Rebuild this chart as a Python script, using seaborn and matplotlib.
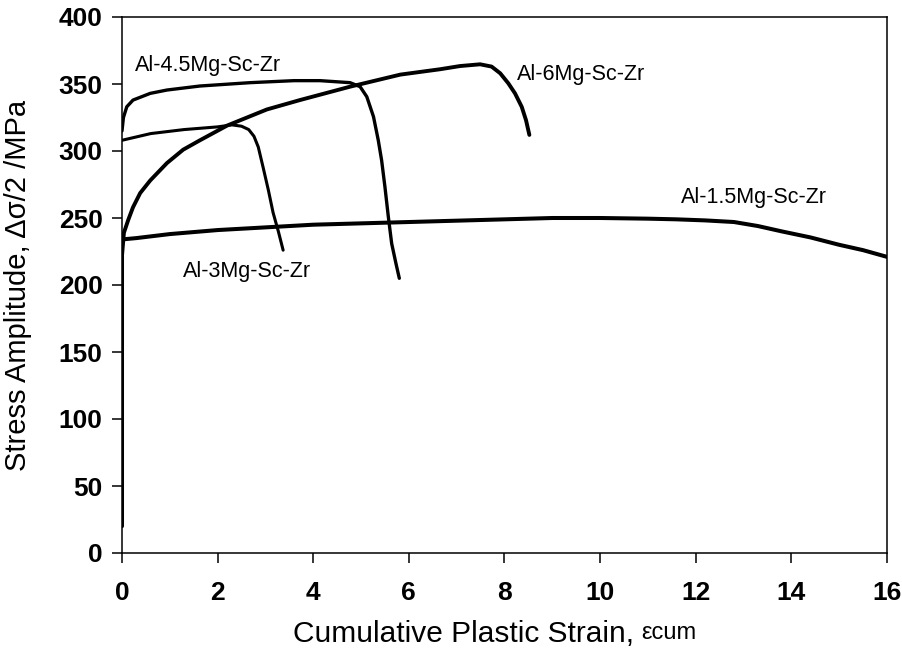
import matplotlib
matplotlib.use("Agg")
import matplotlib.pyplot as plt
import seaborn as sns
import pandas as pd

# ---- data ----
alloys = ["Al-1.5Mg-Sc-Zr", "Al-3Mg-Sc-Zr", "Al-4.5Mg-Sc-Zr", "Al-6Mg-Sc-Zr"]

x15 = [0, 0, 0.3, 1, 2, 3, 4, 5, 6, 7, 8, 9, 10, 11, 11.6, 12.2, 12.8, 13.3, 13.8, 14.4, 15, 15.5, 16]
y15 = [20, 234, 235, 238, 241, 243, 245, 246, 247, 248, 249, 250, 250, 249.5, 249, 248.2, 247, 244, 240, 235.5, 230, 226, 221]

x3 = [0, 0.6, 1.3, 2.0, 2.3, 2.5, 2.65, 2.76, 2.85, 2.95, 3.06, 3.16, 3.27, 3.37]
y3 = [308, 313, 316, 318, 319.5, 318.5, 316, 311, 303, 288, 271, 254, 240, 226]

x45 = [0, 0.03, 0.1, 0.23, 0.59, 0.94, 1.63, 2.68, 3.6, 4.14, 4.77, 4.98, 5.12, 5.26, 5.36, 5.43, 5.5, 5.57, 5.64, 5.73, 5.8]
y45 = [315, 325, 333, 338, 343, 345.5, 348.5, 351, 352.5, 352.5, 351, 348, 340.5, 325.6, 308, 293, 273, 251, 231, 216, 205]

x6 = [0, 0.04, 0.13, 0.23, 0.38, 0.59, 0.94, 1.28, 1.63, 2.2, 3.03, 3.72, 4.77, 5.82, 6.65, 7.07, 7.49, 7.73, 7.91, 8.08, 8.22, 8.36, 8.45, 8.52]
y6 = [222, 239, 248.5, 258, 268.6, 278, 291, 301, 308, 319, 331, 338, 348, 357, 361, 363.4, 364.7, 363, 358, 350.5, 343, 333, 323, 312]

xticks = [0, 2, 4, 6, 8, 10, 12, 14, 16]
yticks = [0, 50, 100, 150, 200, 250, 300, 350, 400]

# label anchor positions (data coords, left / vertical centre)
label_x = [11.7, 1.28, 0.27, 8.26]
label_y = [265, 210, 364, 357]

sns.set_theme(style="white")
plt.rcParams['font.family'] = ['Liberation Sans', 'DejaVu Sans']
for k in ['text.color', 'axes.labelcolor', 'xtick.color', 'ytick.color', 'axes.edgecolor']:
    plt.rcParams[k] = 'black'

frames = []
for name, xs, ys in zip(alloys, [x15, x3, x45, x6], [y15, y3, y45, y6]):
    frames.append(pd.DataFrame({"strain": xs, "stress": ys, "alloy": name}))
df = pd.concat(frames, ignore_index=True)

fig = plt.figure(figsize=(9.03, 6.56), dpi=100)
ax = fig.add_axes([122/903, 1 - 553/656, (887-122)/903, (553-17)/656])

widths = {"Al-1.5Mg-Sc-Zr": 2.9, "Al-3Mg-Sc-Zr": 2.2, "Al-4.5Mg-Sc-Zr": 2.4, "Al-6Mg-Sc-Zr": 2.8}
for name in alloys:
    sub = df[df["alloy"] == name]
    sns.lineplot(data=sub, x="strain", y="stress", sort=False, estimator=None,
                 color="black", lw=widths[name], ax=ax, legend=False)
for ln in ax.lines:
    ln.set_solid_joinstyle('round')
    ln.set_solid_capstyle('round')

ax.set_xlim(0, 16)
ax.set_ylim(0, 400)
ax.set_xticks(xticks)
ax.set_yticks(yticks)
ax.set_xticklabels([str(t) for t in xticks], fontsize=19, fontweight='bold')
ax.set_yticklabels([str(t) for t in yticks], fontsize=19, fontweight='bold')
ax.tick_params(axis='both', direction='out', length=7, width=1.1, color='black',
               labelcolor='black', bottom=True, left=True)
ax.tick_params(axis='x', pad=13)
ax.tick_params(axis='y', pad=7)

for s in ax.spines.values():
    s.set_visible(True)
    s.set_color('black')
    s.set_linewidth(1.1)

for name, lx, ly in zip(alloys, label_x, label_y):
    ax.text(lx, ly, name, fontsize=15.5, color='black', ha='left', va='center')

ax.set_ylabel("Stress Amplitude, \u0394\u03c3/2 /MPa", fontsize=21, color='black')
ax.yaxis.set_label_coords(-0.118, 0.5)

ax.set_xlabel("Cumulative Plastic Strain,", fontsize=21.5, color='black', ha='left')
ax.xaxis.set_label_coords((293-122)/765, -0.125)
ax.xaxis.label.set_verticalalignment('top')
ax.annotate("\u03b5cum", xy=(1, 0), xycoords=ax.xaxis.label, xytext=(5, 3),
            textcoords='offset points', fontsize=17, ha='left', va='bottom',
            color='black')

fig.savefig("out.png", dpi=100, facecolor='white')
